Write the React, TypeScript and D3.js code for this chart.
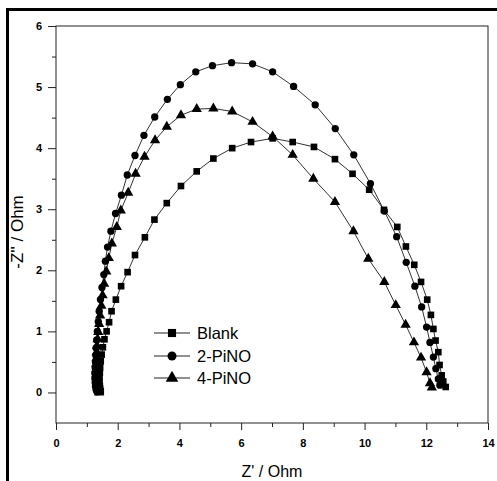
import { useEffect, useRef } from 'react';
import * as d3 from 'd3';

type Pt = [number, number];

// Z' (Ohm), -Z'' (Ohm)
const BLANK: Pt[] = [
  [1.45, 0.02], [1.43, 0.06], [1.42, 0.11], [1.41, 0.17], [1.41, 0.24], [1.42, 0.32], [1.43, 0.41],
  [1.45, 0.51], [1.48, 0.62], [1.52, 0.74], [1.57, 0.87], [1.64, 1.0], [1.72, 1.15], [1.8, 1.33],
  [1.94, 1.52], [2.11, 1.74], [2.32, 1.97], [2.56, 2.25], [2.88, 2.54], [3.19, 2.83], [3.59, 3.1],
  [4.05, 3.38], [4.56, 3.62], [5.1, 3.83], [5.71, 4.0], [6.32, 4.1], [7.02, 4.16], [7.67, 4.1],
  [8.36, 4.02], [9.04, 3.82], [9.61, 3.58], [10.15, 3.32], [10.63, 2.99], [11.06, 2.71], [11.34, 2.39],
  [11.61, 2.09], [11.83, 1.81], [12.03, 1.52], [12.15, 1.27], [12.23, 1.04], [12.3, 0.85], [12.39, 0.66],
  [12.43, 0.45], [12.5, 0.28], [12.55, 0.18], [12.63, 0.09],
];

const PINO2: Pt[] = [
  [1.33, 0.01], [1.3, 0.05], [1.28, 0.1], [1.27, 0.16], [1.26, 0.23], [1.26, 0.31], [1.27, 0.4],
  [1.28, 0.5], [1.29, 0.61], [1.3, 0.73], [1.32, 0.86], [1.34, 1.0], [1.37, 1.16], [1.4, 1.33],
  [1.44, 1.52], [1.49, 1.72], [1.55, 1.93], [1.6, 2.15], [1.67, 2.38], [1.78, 2.64], [1.93, 2.93],
  [2.12, 3.23], [2.31, 3.56], [2.56, 3.88], [2.85, 4.21], [3.2, 4.51], [3.61, 4.8], [4.03, 5.04],
  [4.53, 5.25], [5.07, 5.35], [5.69, 5.4], [6.37, 5.38], [7.02, 5.25], [7.7, 5.01], [8.4, 4.71],
  [9.05, 4.32], [9.65, 3.89], [10.19, 3.42], [10.64, 2.97], [11.04, 2.55], [11.35, 2.13], [11.63, 1.74],
  [11.85, 1.4], [12.01, 1.07], [12.12, 0.82], [12.23, 0.58], [12.31, 0.39], [12.39, 0.22], [12.44, 0.12],
];

const PINO4: Pt[] = [
  [1.4, 0.0], [1.37, 0.04], [1.35, 0.09], [1.33, 0.15], [1.32, 0.22], [1.31, 0.3], [1.3, 0.38],
  [1.3, 0.47], [1.31, 0.56], [1.32, 0.66], [1.33, 0.76], [1.35, 0.87], [1.37, 0.99], [1.4, 1.12],
  [1.43, 1.26], [1.47, 1.42], [1.51, 1.59], [1.56, 1.78], [1.63, 1.98], [1.71, 2.2], [1.81, 2.44],
  [1.97, 2.71], [2.1, 2.98], [2.34, 3.27], [2.58, 3.58], [2.87, 3.86], [3.21, 4.13], [3.59, 4.35],
  [4.05, 4.54], [4.56, 4.64], [5.1, 4.65], [5.71, 4.6], [6.37, 4.43], [7.02, 4.19], [7.67, 3.89],
  [8.34, 3.5], [9.04, 3.12], [9.64, 2.64], [10.12, 2.19], [10.64, 1.81], [11.01, 1.43], [11.33, 1.11],
  [11.6, 0.82], [11.83, 0.57], [12.01, 0.33], [12.12, 0.15], [12.18, 0.08],
];

const SERIES_NAMES = ['Blank', '2-PiNO', '4-PiNO'];
const X_TICKS = [0, 2, 4, 6, 8, 10, 12, 14];
const X_MINOR = [1, 3, 5, 7, 9, 11, 13];
const Y_TICKS = [0, 1, 2, 3, 4, 5, 6];
const Y_MINOR = [0.5, 1.5, 2.5, 3.5, 4.5, 5.5];

export default function App() {
  const svgRef = useRef<SVGSVGElement>(null);

  useEffect(() => {
    const el = svgRef.current;
    if (!el) return;
    const svg = d3.select(el);
    svg.selectAll('*').remove();

    const W = 497;
    const H = 481;
    const left = 56, right = 488, top = 26, bottom = 423;

    const x = d3.scaleLinear().domain([0, 14]).range([left, right]);
    const y = d3.scaleLinear().domain([-0.5, 6]).range([bottom, top]);

    svg.append('rect').attr('width', W).attr('height', H).attr('fill', '#fff');

    // outer frame (only top and left visible)
    svg.append('line').attr('x1', 6).attr('x2', W).attr('y1', 9.5).attr('y2', 9.5)
      .attr('stroke', '#000').attr('stroke-width', 3);
    svg.append('line').attr('x1', 7.5).attr('x2', 7.5).attr('y1', 8).attr('y2', H)
      .attr('stroke', '#000').attr('stroke-width', 3);

    // plot frame
    svg.append('rect')
      .attr('x', left).attr('y', top).attr('width', right - left).attr('height', bottom - top)
      .attr('fill', 'none').attr('stroke', '#222').attr('stroke-width', 1);

    const font = "Arial, 'Liberation Sans', sans-serif";

    // axes
    const xAxis = svg.append('g').attr('transform', `translate(0,${bottom})`)
      .call(d3.axisBottom(x).tickValues(X_TICKS).tickSize(7).tickPadding(9).tickFormat(d3.format('d')));
    svg.append('g').attr('transform', `translate(0,${bottom})`)
      .call(d3.axisBottom(x).tickValues(X_MINOR).tickSize(4).tickFormat(() => ''));
    const yAxis = svg.append('g').attr('transform', `translate(${left},0)`)
      .call(d3.axisLeft(y).tickValues(Y_TICKS).tickSize(8).tickPadding(6).tickFormat(d3.format('d')));
    svg.append('g').attr('transform', `translate(${left},0)`)
      .call(d3.axisLeft(y).tickValues(Y_MINOR).tickSize(4).tickFormat(() => ''));

    svg.selectAll('.domain').remove();
    svg.selectAll('.tick line').attr('stroke', '#222');
    [xAxis, yAxis].forEach((a) => a.selectAll('.tick text')
      .attr('fill', '#000').attr('font-size', '11px').attr('font-weight', 'bold').attr('font-family', font));

    // axis titles
    svg.append('text').attr('x', (left + right) / 2).attr('y', 477)
      .attr('text-anchor', 'middle').attr('font-size', '16px').attr('font-family', font)
      .text("Z' / Ohm");
    svg.append('text').attr('transform', `translate(23,${232}) rotate(-90)`)
      .attr('text-anchor', 'middle').attr('font-size', '17px').attr('font-family', font)
      .text("-Z'' / Ohm");

    const symbols = [d3.symbolSquare, d3.symbolCircle, d3.symbolTriangle];
    const sizes = [44, 42, 46];
    const data = [BLANK, PINO2, PINO4];

    const line = d3.line<Pt>().x((d) => x(d[0])).y((d) => y(d[1]));

    data.forEach((pts) => {
      svg.append('path').datum(pts).attr('d', line)
        .attr('fill', 'none').attr('stroke', '#333').attr('stroke-width', 1);
    });
    data.forEach((pts, i) => {
      const sym = d3.symbol().type(symbols[i]).size(sizes[i]);
      svg.append('g').selectAll('path').data(pts).join('path')
        .attr('transform', (d) => `translate(${x(d[0])},${y(d[1])})`)
        .attr('d', sym()).attr('fill', '#000');
    });

    // legend
    const legY = [333, 356, 378];
    SERIES_NAMES.forEach((name, i) => {
      const g = svg.append('g').attr('transform', `translate(0,${legY[i]})`);
      g.append('line').attr('x1', 154).attr('x2', 190).attr('y1', 0).attr('y2', 0)
        .attr('stroke', '#222').attr('stroke-width', 1);
      g.append('path').attr('transform', 'translate(172,0)')
        .attr('d', d3.symbol().type(symbols[i]).size(sizes[i] * 1.5)()).attr('fill', '#000');
      g.append('text').attr('x', 197).attr('y', 6)
        .attr('font-size', '16.5px').attr('font-family', font).text(name);
    });
  }, []);

  return (
    <svg ref={svgRef} width={497} height={481}
      style={{ position: 'absolute', left: 0, top: 0, display: 'block' }} />
  );
}
